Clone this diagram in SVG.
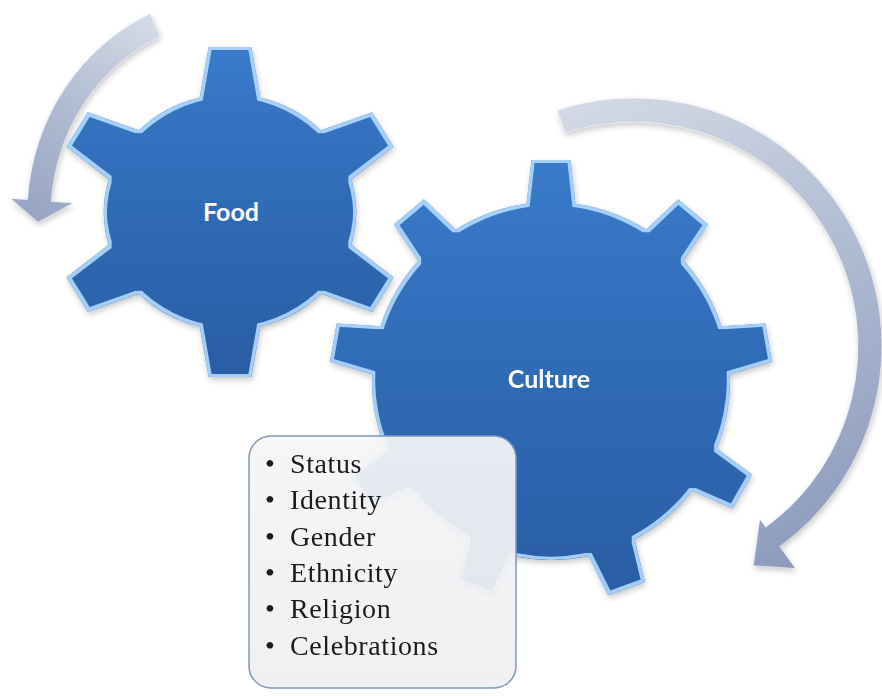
<svg xmlns="http://www.w3.org/2000/svg" xmlns:xlink="http://www.w3.org/1999/xlink" width="882" height="696" viewBox="0 0 882 696">
  <style>
    .label { font-family: Lato, "Open Sans", "Liberation Sans", sans-serif; font-weight: 700; font-size: 25px; fill: #ffffff; text-anchor: middle; }
    .item { font-family: "Liberation Serif", "DejaVu Serif", serif; font-size: 28px; fill: #1c1c1c; letter-spacing: 0.6px; }
    .bullet { font-family: "Liberation Serif", "DejaVu Serif", serif; font-size: 28px; fill: #1c1c1c; }
    .arrow { stroke: #ffffff; stroke-opacity: 0.55; stroke-width: 1; }
  </style>
  <defs>
    <!-- gear body shading -->
    <linearGradient id="gearFill" x1="0" y1="0" x2="0" y2="1">
      <stop offset="0" stop-color="#3a7bcc"/>
      <stop offset="0.4" stop-color="#316db9"/>
      <stop offset="1" stop-color="#295da4"/>
    </linearGradient>
    <!-- curved arrow shading -->
    <linearGradient id="foodArrowFill" gradientUnits="userSpaceOnUse" x1="150" y1="15" x2="40" y2="222">
      <stop offset="0" stop-color="#d6dce7"/>
      <stop offset="0.5" stop-color="#b1bcd2"/>
      <stop offset="1" stop-color="#97a5c3"/>
    </linearGradient>
    <linearGradient id="cultureArrowFill" gradientUnits="userSpaceOnUse" x1="560" y1="110" x2="790" y2="565">
      <stop offset="0" stop-color="#d3d9e5"/>
      <stop offset="0.5" stop-color="#afbbd2"/>
      <stop offset="1" stop-color="#8d9cbd"/>
    </linearGradient>
    <linearGradient id="boxFill" x1="0" y1="0" x2="0" y2="1">
      <stop offset="0" stop-color="#f5f5f6"/>
      <stop offset="1" stop-color="#efeff1"/>
    </linearGradient>

    <!-- tooth outlines, pointing up from the gear centre -->
    <polygon id="toothFood" points="-29,-110 -20,-165 20,-165 29,-110"/>
    <polygon id="toothCulture" points="-25,-172 -19.5,-221 19.5,-221 25,-172"/>

    <clipPath id="foodClip">
      <circle r="118"/>
      <use xlink:href="#toothFood"/>
      <use xlink:href="#toothFood" transform="rotate(60)"/>
      <use xlink:href="#toothFood" transform="rotate(120)"/>
      <use xlink:href="#toothFood" transform="rotate(180)"/>
      <use xlink:href="#toothFood" transform="rotate(240)"/>
      <use xlink:href="#toothFood" transform="rotate(300)"/>
    </clipPath>
    <clipPath id="cultureClip">
      <circle r="179"/>
      <use xlink:href="#toothCulture"/>
      <use xlink:href="#toothCulture" transform="rotate(40)"/>
      <use xlink:href="#toothCulture" transform="rotate(80)"/>
      <use xlink:href="#toothCulture" transform="rotate(120)"/>
      <use xlink:href="#toothCulture" transform="rotate(160)"/>
      <use xlink:href="#toothCulture" transform="rotate(200)"/>
      <use xlink:href="#toothCulture" transform="rotate(240)"/>
      <use xlink:href="#toothCulture" transform="rotate(280)"/>
      <use xlink:href="#toothCulture" transform="rotate(320)"/>
    </clipPath>

    <!-- light bevel rim along the inside of a silhouette -->
    <filter id="rim" x="-10%" y="-10%" width="120%" height="120%">
      <feMorphology in="SourceAlpha" operator="erode" radius="3" result="inner"/>
      <feComposite in="SourceAlpha" in2="inner" operator="out" result="ring"/>
      <feGaussianBlur in="ring" stdDeviation="0.7" result="soft"/>
      <feFlood flood-color="#b2daff" flood-opacity="0.9"/>
      <feComposite in2="soft" operator="in"/>
    </filter>
    <!-- soft shadow under a silhouette -->
    <filter id="shadow" x="-10%" y="-10%" width="120%" height="120%">
      <feGaussianBlur in="SourceAlpha" stdDeviation="3"/>
      <feOffset dx="1" dy="3"/>
      <feComponentTransfer><feFuncA type="linear" slope="0.22"/></feComponentTransfer>
    </filter>

    <path id="foodArrowShape"
          d="M 150.4 13.6 A 208 220.5 0 0 0 27.5 199.6 L 10.5 198.4 L 38.1 222.3 L 73.4 203 L 51.4 201.4 A 184 195 0 0 1 160.2 36.8 Z"/>
    <path id="cultureArrowShape"
          d="M 557.4 110.1 A 248 248 0 0 1 779.8 546.6 L 795.6 568.5 L 753.3 565.7 L 759.8 519.1 L 765.7 527.2 A 224 224 0 0 0 564.8 133 Z"/>
  </defs>

  <rect width="882" height="696" fill="#ffffff"/>

  <!-- curved rotation arrows -->
  <g id="arrows">
    <g id="food-arrow">
      <use xlink:href="#foodArrowShape" filter="url(#shadow)"/>
      <use xlink:href="#foodArrowShape" class="arrow" fill="url(#foodArrowFill)"/>
    </g>
    <g id="culture-arrow">
      <use xlink:href="#cultureArrowShape" filter="url(#shadow)"/>
      <use xlink:href="#cultureArrowShape" class="arrow" fill="url(#cultureArrowFill)"/>
    </g>
  </g>

  <!-- small gear -->
  <g id="food-gear">
    <g transform="translate(230,212) scale(1.07,1)">
      <g filter="url(#shadow)">
        <circle r="118"/>
        <use xlink:href="#toothFood"/>
        <use xlink:href="#toothFood" transform="rotate(60)"/>
        <use xlink:href="#toothFood" transform="rotate(120)"/>
        <use xlink:href="#toothFood" transform="rotate(180)"/>
        <use xlink:href="#toothFood" transform="rotate(240)"/>
        <use xlink:href="#toothFood" transform="rotate(300)"/>
      </g>
      <rect x="-170" y="-170" width="340" height="340" fill="url(#gearFill)" clip-path="url(#foodClip)"/>
      <g filter="url(#rim)">
        <circle r="118"/>
        <use xlink:href="#toothFood"/>
        <use xlink:href="#toothFood" transform="rotate(60)"/>
        <use xlink:href="#toothFood" transform="rotate(120)"/>
        <use xlink:href="#toothFood" transform="rotate(180)"/>
        <use xlink:href="#toothFood" transform="rotate(240)"/>
        <use xlink:href="#toothFood" transform="rotate(300)"/>
      </g>
    </g>
    <text class="label" x="231" y="221">Food</text>
  </g>

  <!-- large gear -->
  <g id="culture-gear">
    <g transform="translate(551,381)">
      <g filter="url(#shadow)">
        <circle r="179"/>
        <use xlink:href="#toothCulture"/>
        <use xlink:href="#toothCulture" transform="rotate(40)"/>
        <use xlink:href="#toothCulture" transform="rotate(80)"/>
        <use xlink:href="#toothCulture" transform="rotate(120)"/>
        <use xlink:href="#toothCulture" transform="rotate(160)"/>
        <use xlink:href="#toothCulture" transform="rotate(200)"/>
        <use xlink:href="#toothCulture" transform="rotate(240)"/>
        <use xlink:href="#toothCulture" transform="rotate(280)"/>
        <use xlink:href="#toothCulture" transform="rotate(320)"/>
      </g>
      <rect x="-225" y="-225" width="450" height="450" fill="url(#gearFill)" clip-path="url(#cultureClip)"/>
      <g filter="url(#rim)">
        <circle r="179"/>
        <use xlink:href="#toothCulture"/>
        <use xlink:href="#toothCulture" transform="rotate(40)"/>
        <use xlink:href="#toothCulture" transform="rotate(80)"/>
        <use xlink:href="#toothCulture" transform="rotate(120)"/>
        <use xlink:href="#toothCulture" transform="rotate(160)"/>
        <use xlink:href="#toothCulture" transform="rotate(200)"/>
        <use xlink:href="#toothCulture" transform="rotate(240)"/>
        <use xlink:href="#toothCulture" transform="rotate(280)"/>
        <use xlink:href="#toothCulture" transform="rotate(320)"/>
      </g>
    </g>
    <text class="label" x="549" y="388">Culture</text>
  </g>

  <!-- bulleted detail box -->
  <g id="details-box">
    <rect x="249" y="436" width="267" height="252" rx="22" fill="url(#boxFill)" fill-opacity="0.93" stroke="#8198b9" stroke-width="1.5"/>
    <text class="bullet" x="265" y="473">•</text>
    <text class="item" x="290" y="473">Status</text>
    <text class="bullet" x="265" y="509">•</text>
    <text class="item" x="290" y="509">Identity</text>
    <text class="bullet" x="265" y="546">•</text>
    <text class="item" x="290" y="546">Gender</text>
    <text class="bullet" x="265" y="582">•</text>
    <text class="item" x="290" y="582">Ethnicity</text>
    <text class="bullet" x="265" y="618">•</text>
    <text class="item" x="290" y="618">Religion</text>
    <text class="bullet" x="265" y="655">•</text>
    <text class="item" x="290" y="655">Celebrations</text>
  </g>
</svg>
